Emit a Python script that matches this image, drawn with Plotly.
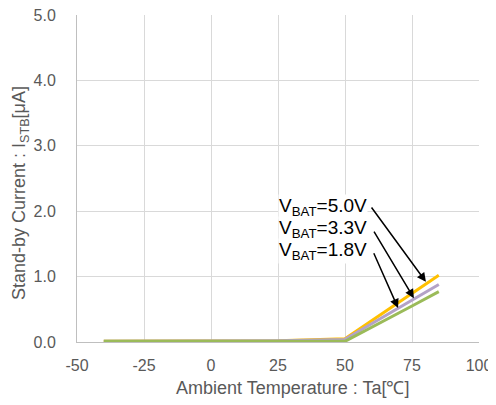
import plotly.graph_objects as go

# Ambient temperature [°C]
temps = [-40, -25, 0, 25, 50, 75, 85]

# Stand-by current [uA] per battery voltage
i_5v0 = [0.01, 0.01, 0.01, 0.02, 0.05, 0.74, 1.02]
i_3v3 = [0.01, 0.01, 0.01, 0.02, 0.04, 0.64, 0.88]
i_1v8 = [0.01, 0.01, 0.01, 0.01, 0.01, 0.55, 0.77]

x_ticks = [-50, -25, 0, 25, 50, 75, 100]
y_ticks = [0, 1, 2, 3, 4, 5]

# label text, label position, arrow tail, arrow head (data coords)
labels = ["V<sub>BAT</sub>=5.0V", "V<sub>BAT</sub>=3.3V", "V<sub>BAT</sub>=1.8V"]
label_x = [25, 25, 25]
label_y = [2.06, 1.73, 1.39]
arrow_tail_x = [59.5, 60.5, 60.5]
arrow_tail_y = [2.08, 1.71, 1.38]
arrow_head_x = [80.2, 75.7, 69.8]
arrow_head_y = [0.92, 0.67, 0.52]

GRAY = "#595959"
GRID = "#D9D9D9"
FONT = "Liberation Sans, Arial"

fig = go.Figure()
fig.add_trace(go.Scatter(x=temps, y=i_5v0, mode="lines", line=dict(color="#FFC000", width=3), name="5.0V"))
fig.add_trace(go.Scatter(x=temps, y=i_3v3, mode="lines", line=dict(color="#B3A2C7", width=3), name="3.3V"))
fig.add_trace(go.Scatter(x=temps, y=i_1v8, mode="lines", line=dict(color="#9BBB59", width=3), name="1.8V"))

for i in range(len(labels)):
    fig.add_annotation(
        x=label_x[i], y=label_y[i], xref="x", yref="y",
        text=labels[i], showarrow=False, xanchor="left", yanchor="middle",
        bgcolor="white", borderpad=0,
        font=dict(family=FONT, size=19, color="black"),
    )
for i in range(len(labels)):
    fig.add_annotation(
        x=arrow_head_x[i], y=arrow_head_y[i], ax=arrow_tail_x[i], ay=arrow_tail_y[i],
        xref="x", yref="y", axref="x", ayref="y",
        text="", showarrow=True, arrowhead=2, arrowsize=1.2, arrowwidth=1.5,
        arrowcolor="black",
    )

# axis titles as annotations for placement
fig.add_annotation(
    x=-0.139, y=0.456, xref="paper", yref="paper", xanchor="center", yanchor="middle",
    text="Stand-by Current : I<sub>STB</sub>[μA]", textangle=-90,
    showarrow=False, font=dict(family=FONT, size=18, color=GRAY),
)
fig.add_annotation(
    x=0.535, y=-0.141, xref="paper", yref="paper", xanchor="center", yanchor="middle",
    text="Ambient Temperature : Ta[℃]", showarrow=False,
    font=dict(family=FONT, size=18, color=GRAY),
)

fig.update_xaxes(
    range=[-50, 100], tickvals=x_ticks, ticktext=[str(v) for v in x_ticks],
    showgrid=True, gridcolor=GRID, gridwidth=1, zeroline=False,
    showline=True, linecolor="#BFBFBF", linewidth=1,
    ticks="", ticklabelstandoff=9, ticklabeloverflow="allow",
    tickfont=dict(family=FONT, size=16, color=GRAY),
)
fig.update_yaxes(
    range=[0, 5], tickvals=y_ticks, ticktext=[f"{v:.1f}" for v in y_ticks],
    showgrid=True, gridcolor=GRID, gridwidth=1, zeroline=False,
    showline=True, linecolor="#BFBFBF", linewidth=1,
    ticks="", ticklabelstandoff=17, ticklabeloverflow="allow",
    tickfont=dict(family=FONT, size=16, color=GRAY),
)

# page body has an 8px margin, so the figure is sized to fit the window
fig.update_layout(
    width=488, height=397,
    margin=dict(l=69, r=17, t=7, b=63, autoexpand=False),
    plot_bgcolor="white", paper_bgcolor="white",
    showlegend=False,
)

fig.write_html("out.html")
